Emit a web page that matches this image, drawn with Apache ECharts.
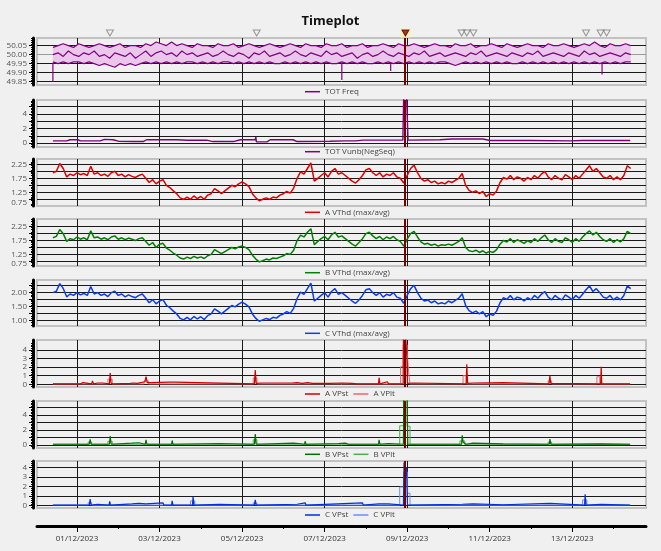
<!DOCTYPE html>
<html><head><meta charset="utf-8">
<script src="https://cdn.jsdelivr.net/npm/echarts@6/dist/echarts.min.js"></script>
<style>html,body{margin:0;padding:0;background:#f0f0f0;}#c{width:661px;height:551px;}</style>
</head><body><div id="c"></div>
<script>
// ---------------- DATA ----------------
const regStart = '2023-11-30 10:00';
const freqStepHours = 3;
const thdStepHours = 2;
const xMinTime = '2023-11-30 00:45';
const xMaxTime = '2023-12-14 18:53';
const cursorTime = '2023-12-08 22:50';

const dayTicks = ['2023-12-01','2023-12-02','2023-12-03','2023-12-04','2023-12-05','2023-12-06','2023-12-07',
                  '2023-12-08','2023-12-09','2023-12-10','2023-12-11','2023-12-12','2023-12-13','2023-12-14'];
const labelDays = ['2023-12-01','2023-12-03','2023-12-05','2023-12-07','2023-12-09','2023-12-11','2023-12-13'];

const eventTimes = ['2023-12-01 19:10','2023-12-05 08:30','2023-12-10 07:40','2023-12-10 10:40','2023-12-10 14:30',
                    '2023-12-13 08:00','2023-12-13 16:30','2023-12-13 20:00'];
const selectedEvent = ['2023-12-08 23:00'];

const freqMax = [
50.04,50.05,50.06,50.05,50.04,50.06,50.05,50.04,50.05,50.06,
50.05,50.04,50.05,50.06,50.04,50.05,50.05,50.04,50.06,50.05,
50.07,50.06,50.05,50.07,50.05,50.06,50.05,50.04,50.06,50.05,
50.05,50.04,50.06,50.05,50.05,50.06,50.04,50.05,50.06,50.05,
50.04,50.05,50.06,50.05,50.04,50.05,50.06,50.05,50.04,50.06,
50.05,50.05,50.04,50.06,50.05,50.05,50.06,50.04,50.05,50.05,
50.06,50.04,50.05,50.05,50.06,50.05,50.04,50.06,50.05,50.05,
50.06,50.05,50.04,50.05,50.06,50.05,50.05,50.04,50.06,50.05,
50.05,50.06,50.04,50.05,50.05,50.06,50.05,50.04,50.06,50.05,
50.04,50.05,50.06,50.05,50.05,50.04,50.06,50.05,50.05,50.06,
50.05,50.04,50.05,50.06,50.05,50.07,50.05,50.04,50.06,50.05,
50.05,50.06,50.05];
const freqAvg = [
50.00,50.01,49.99,50.02,50.00,49.99,50.01,50.00,50.02,49.99,
50.00,49.98,50.01,50.00,49.99,50.01,49.98,50.00,50.02,49.99,
50.01,50.02,50.00,50.01,49.99,50.02,50.00,50.01,49.99,50.00,
50.01,49.99,50.00,50.02,50.00,49.99,50.01,50.00,49.98,50.01,
50.00,50.02,49.99,50.00,50.01,49.99,50.00,50.02,50.00,49.99,
50.01,50.00,49.99,50.02,50.00,50.01,49.99,50.00,50.01,49.98,
50.00,50.01,49.99,50.00,50.02,50.00,49.99,50.01,50.00,49.99,
50.01,50.00,50.02,49.99,50.00,50.01,49.99,50.00,50.01,50.00,
49.99,50.01,50.00,50.02,49.99,50.00,50.01,50.00,49.99,50.01,
50.00,49.99,50.01,50.00,50.02,49.99,50.00,50.01,50.00,49.99,
50.01,50.00,49.99,50.02,50.00,50.01,49.99,50.00,50.01,50.00,
49.99,50.01,50.00];
const freqMin = [
49.96,49.95,49.96,49.95,49.96,49.96,49.95,49.96,49.95,49.94,
49.95,49.94,49.93,49.95,49.94,49.95,49.94,49.95,49.96,49.95,
49.96,49.95,49.96,49.95,49.96,49.95,49.96,49.96,49.95,49.96,
49.95,49.96,49.95,49.96,49.96,49.95,49.96,49.95,49.96,49.95,
49.96,49.95,49.96,49.95,49.95,49.96,49.95,49.96,49.95,49.96,
49.95,49.96,49.95,49.96,49.95,49.95,49.96,49.95,49.96,49.95,
49.96,49.95,49.95,49.96,49.95,49.96,49.95,49.96,49.95,49.96,
49.95,49.96,49.95,49.96,49.95,49.96,49.96,49.95,49.94,49.95,
49.96,49.95,49.96,49.95,49.96,49.95,49.96,49.95,49.96,49.95,
49.95,49.96,49.95,49.96,49.95,49.96,49.95,49.96,49.95,49.96,
49.95,49.96,49.95,49.96,49.95,49.96,49.95,49.96,49.95,49.96,
49.95,49.96,49.96];
const freqDipLevel = 49.955;
const freqDips = [['2023-11-30 10:00',49.85],['2023-12-07 10:00',49.86],['2023-12-08 14:25',49.91],['2023-12-13 17:20',49.89]];

const vunbData = [
['2023-11-30 10:00',0.30],['2023-11-30 18:00',0.30],['2023-11-30 20:00',0.45],['2023-12-01 00:30',0.45],['2023-12-01 02:00',0.30],
['2023-12-01 13:30',0.30],['2023-12-01 16:00',0.50],['2023-12-01 21:00',0.45],['2023-12-02 00:00',0.25],['2023-12-02 08:30',0.20],
['2023-12-02 14:30',0.20],['2023-12-02 16:30',0.45],['2023-12-03 10:00',0.45],['2023-12-03 16:00',0.38],['2023-12-04 03:30',0.40],
['2023-12-04 07:00',0.20],['2023-12-04 19:00',0.20],['2023-12-04 23:00',0.45],['2023-12-05 07:40',0.45],['2023-12-05 08:00',0.85],
['2023-12-05 08:20',0.15],['2023-12-05 14:30',0.15],['2023-12-05 16:20',0.45],['2023-12-06 05:40',0.45],['2023-12-06 08:00',0.20],
['2023-12-07 03:00',0.25],['2023-12-07 12:00',0.30],['2023-12-07 18:00',0.30],['2023-12-07 22:30',0.40],['2023-12-08 21:30',0.40],
['2023-12-08 22:00',6.5],['2023-12-08 23:40',6.5],['2023-12-09 00:30',0.40],['2023-12-09 19:00',0.45],['2023-12-10 02:00',0.55],
['2023-12-10 20:00',0.55],['2023-12-11 00:20',0.35],['2023-12-11 23:30',0.35],['2023-12-12 22:50',0.30],['2023-12-13 06:00',0.35],
['2023-12-14 09:40',0.35]];

const thdA = [
1.95,2.00,2.28,2.10,1.80,1.90,1.85,1.95,1.88,1.92,
1.85,2.18,1.90,1.95,1.85,1.90,1.82,1.95,2.00,1.85,
1.90,1.80,1.88,1.82,1.78,1.85,1.90,1.75,1.60,1.70,
1.55,1.65,1.70,1.50,1.42,1.30,1.20,1.05,1.00,1.08,
1.00,1.12,1.02,1.10,1.00,1.15,1.20,1.38,1.30,1.20,
1.30,1.40,1.50,1.45,1.55,1.62,1.55,1.45,1.20,1.05,
0.95,1.00,1.05,1.00,1.08,1.05,1.15,1.20,1.28,1.22,
1.40,1.75,1.98,1.90,2.10,2.30,1.65,1.75,1.85,1.95,
1.80,2.00,2.10,1.90,1.95,1.85,1.75,1.65,1.58,1.70,
1.85,2.05,2.10,1.95,1.85,1.95,1.80,1.90,1.85,1.95,
1.80,1.75,1.58,1.85,2.10,2.22,1.95,1.75,1.65,1.70,
1.60,1.65,1.55,1.60,1.55,1.65,1.60,1.68,1.75,1.92,
1.50,1.32,1.25,1.30,1.20,1.28,1.10,1.20,1.15,1.30,
1.60,1.78,1.72,1.85,1.70,1.80,1.75,1.65,1.78,1.70,
1.85,1.75,1.90,2.00,1.80,1.70,1.85,1.75,1.70,1.88,
1.80,1.70,1.85,1.75,1.90,2.05,2.20,2.00,2.10,1.95,
1.80,1.75,1.85,1.70,1.80,1.70,1.85,2.20,2.10];
const thdB = [
1.85,1.90,2.15,2.00,1.72,1.82,1.78,1.88,1.80,1.85,
1.78,2.10,1.85,1.88,1.80,1.85,1.78,1.88,1.92,1.80,
1.85,1.78,1.84,1.80,1.75,1.82,1.85,1.72,1.58,1.68,
1.50,1.62,1.65,1.48,1.40,1.30,1.22,1.12,1.08,1.15,
1.10,1.18,1.12,1.16,1.10,1.20,1.25,1.42,1.35,1.28,
1.35,1.42,1.50,1.45,1.52,1.55,1.50,1.42,1.22,1.08,
0.98,1.02,1.08,1.05,1.12,1.10,1.15,1.20,1.28,1.25,
1.40,1.75,1.95,1.88,2.05,2.18,1.60,1.72,1.82,1.90,
1.78,1.95,2.05,1.88,1.92,1.82,1.72,1.62,1.55,1.68,
1.82,2.00,2.05,1.92,1.82,1.90,1.78,1.88,1.82,1.90,
1.78,1.72,1.55,1.80,2.00,2.08,1.88,1.70,1.62,1.65,
1.58,1.62,1.55,1.60,1.58,1.62,1.58,1.65,1.72,1.85,
1.50,1.38,1.35,1.40,1.32,1.38,1.30,1.36,1.32,1.42,
1.62,1.75,1.70,1.82,1.68,1.78,1.72,1.65,1.75,1.68,
1.82,1.72,1.85,1.95,1.78,1.68,1.82,1.72,1.68,1.85,
1.78,1.68,1.82,1.72,1.88,2.00,2.10,1.95,2.05,1.90,
1.78,1.72,1.82,1.68,1.78,1.70,1.82,2.08,2.00];
const thdC = [
2.00,2.05,2.32,2.15,1.85,1.95,1.90,2.00,1.92,1.97,
1.90,2.22,1.95,2.00,1.90,1.95,1.86,2.00,2.05,1.90,
1.95,1.85,1.92,1.86,1.82,1.90,1.95,1.80,1.64,1.75,
1.60,1.70,1.75,1.55,1.46,1.34,1.24,1.08,1.03,1.12,
1.03,1.15,1.06,1.14,1.04,1.18,1.24,1.42,1.34,1.24,
1.34,1.44,1.54,1.49,1.59,1.66,1.59,1.49,1.24,1.08,
0.98,1.03,1.08,1.04,1.12,1.09,1.19,1.24,1.32,1.26,
1.44,1.79,2.02,1.94,2.14,2.34,1.70,1.80,1.90,2.00,
1.84,2.04,2.14,1.94,2.00,1.90,1.80,1.70,1.62,1.74,
1.90,2.10,2.14,2.00,1.90,2.00,1.84,1.94,1.90,2.00,
1.84,1.80,1.62,1.90,2.14,2.26,2.00,1.80,1.70,1.74,
1.64,1.70,1.60,1.64,1.60,1.70,1.64,1.72,1.80,1.96,
1.54,1.36,1.28,1.34,1.24,1.32,1.14,1.24,1.19,1.34,
1.64,1.82,1.76,1.90,1.74,1.84,1.80,1.70,1.82,1.74,
1.90,1.80,1.94,2.04,1.84,1.74,1.90,1.80,1.74,1.92,
1.84,1.74,1.90,1.80,1.94,2.10,2.24,2.04,2.14,2.00,
1.84,1.80,1.90,1.74,1.84,1.74,1.90,2.24,2.14];

const pstA = [
['2023-11-30 10:00',0.05],['2023-12-01 02:00',0.05],['2023-12-01 03:30',0.2],['2023-12-01 04:30',0.05],
['2023-12-01 08:30',0.05],['2023-12-01 09:00',0.4],['2023-12-01 09:40',0.05],['2023-12-01 12:00',0.15],['2023-12-01 12:40',0.05],
['2023-12-01 15:00',0.15],['2023-12-01 15:40',0.05],['2023-12-01 18:50',0.05],['2023-12-01 19:20',1.3],['2023-12-01 19:50',0.1],
['2023-12-01 21:00',0.05],['2023-12-02 07:00',0.1],['2023-12-02 09:00',0.15],['2023-12-02 11:00',0.1],['2023-12-02 15:30',0.3],
['2023-12-02 16:10',0.9],['2023-12-02 16:50',0.2],['2023-12-02 18:30',0.2],['2023-12-02 19:30',0.05],['2023-12-03 06:00',0.25],
['2023-12-03 09:00',0.25],['2023-12-03 10:00',0.05],['2023-12-05 07:10',0.05],['2023-12-05 07:40',1.65],['2023-12-05 08:10',0.1],
['2023-12-05 12:00',0.15],['2023-12-05 12:40',0.05],['2023-12-06 05:00',0.15],['2023-12-06 08:00',0.2],['2023-12-06 11:00',0.1],
['2023-12-06 14:00',0.2],['2023-12-06 17:00',0.1],['2023-12-06 18:00',0.05],['2023-12-07 03:00',0.1],['2023-12-07 10:00',0.15],
['2023-12-07 16:00',0.1],['2023-12-07 19:00',0.05],['2023-12-08 07:20',0.05],['2023-12-08 07:40',0.77],['2023-12-08 08:10',0.05],
['2023-12-08 12:30',0.3],['2023-12-08 13:10',0.05],['2023-12-08 21:40',0.05],['2023-12-08 21:50',5.5],['2023-12-08 22:30',4.0],
['2023-12-08 23:10',5.5],['2023-12-08 23:50',3.0],['2023-12-09 00:10',0.1],['2023-12-09 03:30',0.15],['2023-12-09 04:00',0.05],
['2023-12-10 10:20',0.05],['2023-12-10 10:40',2.33],['2023-12-10 11:10',0.1],['2023-12-10 14:20',0.15],['2023-12-10 15:00',0.05],
['2023-12-11 07:50',0.2],['2023-12-11 08:30',0.05],['2023-12-12 10:30',0.05],['2023-12-12 11:00',1.0],['2023-12-12 11:30',0.1],
['2023-12-12 12:00',0.05],['2023-12-13 16:30',0.05],['2023-12-13 16:50',2.05],['2023-12-13 17:10',0.05],['2023-12-14 09:40',0.05]];
const pltA = [
['2023-11-30 10:00',0.05],['2023-12-01 18:00',0.6],['2023-12-01 20:30',0.05],['2023-12-02 15:00',0.4],['2023-12-02 17:30',0.05],
['2023-12-05 06:30',0.75],['2023-12-05 08:40',0.05],['2023-12-08 20:10',2.05],['2023-12-08 21:40',4.6],['2023-12-09 00:00',3.8],
['2023-12-09 00:50',1.47],['2023-12-09 01:40',0.05],['2023-12-10 08:30',1.0],['2023-12-10 10:20',0.05],['2023-12-12 10:00',0.4],
['2023-12-12 12:00',0.05],['2023-12-13 14:20',0.88],['2023-12-13 16:00',0.05],['2023-12-14 09:40',0.05]];

const pstB = [
['2023-11-30 10:00',0.1],['2023-12-01 03:00',0.1],['2023-12-01 03:30',0.3],['2023-12-01 04:00',0.1],['2023-12-01 07:10',0.1],
['2023-12-01 07:40',0.76],['2023-12-01 08:10',0.1],['2023-12-01 18:50',0.1],['2023-12-01 19:20',1.2],['2023-12-01 19:50',0.1],
['2023-12-02 08:00',0.25],['2023-12-02 12:00',0.3],['2023-12-02 15:40',0.1],['2023-12-02 16:10',0.7],['2023-12-02 16:40',0.1],
['2023-12-03 07:00',0.1],['2023-12-03 07:20',0.6],['2023-12-03 07:50',0.1],['2023-12-04 11:00',0.2],['2023-12-04 11:30',0.1],
['2023-12-05 07:10',0.1],['2023-12-05 07:40',1.45],['2023-12-05 08:10',0.1],['2023-12-06 05:40',0.25],['2023-12-06 09:00',0.2],
['2023-12-06 12:20',0.1],['2023-12-06 12:40',0.5],['2023-12-06 13:10',0.1],['2023-12-07 08:00',0.2],['2023-12-07 12:00',0.25],
['2023-12-07 14:00',0.1],['2023-12-08 07:20',0.1],['2023-12-08 07:40',0.7],['2023-12-08 08:10',0.1],['2023-12-08 13:00',0.2],
['2023-12-08 13:30',0.1],['2023-12-08 21:50',0.1],['2023-12-08 22:00',6.5],['2023-12-09 00:00',6.5],['2023-12-09 00:20',0.1],
['2023-12-10 07:40',0.1],['2023-12-10 08:00',1.3],['2023-12-10 08:30',0.4],['2023-12-10 10:00',0.1],['2023-12-10 14:20',0.25],
['2023-12-10 14:50',0.1],['2023-12-11 07:50',0.15],['2023-12-11 08:20',0.1],['2023-12-12 10:40',0.1],['2023-12-12 11:00',0.8],
['2023-12-12 11:30',0.1],['2023-12-13 16:40',0.15],['2023-12-13 17:00',0.1],['2023-12-14 09:40',0.1]];
const pltB = [
['2023-11-30 10:00',0.1],['2023-12-01 06:30',0.4],['2023-12-01 08:30',0.1],['2023-12-01 18:00',0.5],['2023-12-01 20:30',0.1],
['2023-12-05 06:30',0.7],['2023-12-05 08:40',0.1],['2023-12-08 19:40',2.57],['2023-12-08 22:00',6.0],['2023-12-09 00:00',2.5],
['2023-12-09 01:40',0.1],['2023-12-10 06:40',0.55],['2023-12-10 09:30',0.1],['2023-12-12 10:00',0.4],['2023-12-12 12:00',0.1],
['2023-12-14 09:40',0.1]];

const pstC = [
['2023-11-30 10:00',0.07],['2023-12-01 07:10',0.07],['2023-12-01 07:40',0.7],['2023-12-01 08:10',0.07],['2023-12-01 12:00',0.15],
['2023-12-01 12:30',0.07],['2023-12-01 18:40',0.07],['2023-12-01 19:00',0.45],['2023-12-01 19:30',0.07],['2023-12-02 08:00',0.2],
['2023-12-02 12:00',0.25],['2023-12-02 16:00',0.2],['2023-12-02 17:00',0.07],['2023-12-03 02:00',0.3],['2023-12-03 02:30',0.07],
['2023-12-03 07:00',0.07],['2023-12-03 07:20',0.5],['2023-12-03 07:50',0.07],['2023-12-03 19:10',0.07],['2023-12-03 19:30',0.94],
['2023-12-03 20:00',0.07],['2023-12-04 11:00',0.15],['2023-12-04 11:30',0.07],['2023-12-05 07:10',0.07],['2023-12-05 07:40',0.6],
['2023-12-05 08:10',0.07],['2023-12-06 08:00',0.15],['2023-12-06 12:40',0.3],['2023-12-06 13:10',0.07],['2023-12-07 22:00',0.3],
['2023-12-07 22:30',0.07],['2023-12-08 07:40',0.2],['2023-12-08 08:00',0.07],['2023-12-08 13:00',0.2],['2023-12-08 13:30',0.07],
['2023-12-08 21:50',0.07],['2023-12-08 22:10',4.5],['2023-12-08 23:00',3.0],['2023-12-08 23:40',4.0],['2023-12-09 00:10',0.07],
['2023-12-10 08:00',0.15],['2023-12-10 14:20',0.2],['2023-12-10 15:00',0.07],['2023-12-11 07:50',0.1],['2023-12-12 11:00',0.25],
['2023-12-12 11:30',0.07],['2023-12-13 07:10',0.07],['2023-12-13 07:30',1.2],['2023-12-13 08:00',0.07],['2023-12-13 16:50',0.15],
['2023-12-13 17:20',0.07],['2023-12-14 09:40',0.07]];
const pltC = [
['2023-11-30 10:00',0.07],['2023-12-01 06:30',0.3],['2023-12-01 08:30',0.07],['2023-12-03 18:00',0.5],['2023-12-03 20:30',0.07],
['2023-12-05 06:30',0.3],['2023-12-05 08:40',0.07],['2023-12-08 19:40',1.95],['2023-12-08 22:00',3.5],['2023-12-09 00:10',1.3],
['2023-12-09 01:40',0.07],['2023-12-13 06:00',0.6],['2023-12-13 08:30',0.07],['2023-12-14 09:40',0.07]];

// tick / gridline values
const freqTicks = [49.85, 49.90, 49.95, 50.00, 50.05];
const vunbGrid = [0,1,2,3,4,5], vunbLabels = [0,2,4];
const thdGrid = [1.0,1.25,1.5,1.75,2.0,2.25], thdLabels = [1.25,1.75,2.25];
const thdBottomLabel = '0.75';
const thdCLabels = [1.0,1.5,2.0];
const pstAGrid = [0,1,2,3,4], pstBGrid = [0,1,2,3,4,5], pstBLabels = [0,2,4], pstCGrid = [0,1,2,3,4];

// ---------------- BUILD ----------------
const T = s => { const m = s.match(/(\d+)-(\d+)-(\d+)(?: (\d+):(\d+))?/); return Date.UTC(+m[1], m[2]-1, +m[3], +(m[4]||0), +(m[5]||0)); };
const H = 3600000;
const reg = (arr, stepH) => arr.map((v,i) => [T(regStart) + i*stepH*H, v]);
const pairs = arr => arr.map(p => [T(p[0]), p[1]]);
const xMin = T(xMinTime), xMax = T(xMaxTime);
const FONT = 'Open Sans';
const pad = n => (n<10?'0':'')+n;
const fmtDate = v => { const d = new Date(v); return pad(d.getUTCDate())+'/'+pad(d.getUTCMonth()+1)+'/'+d.getUTCFullYear(); };

const layout = [[38,47],[100,47],[159,47],[219,47],[280,46],[340,47],[401,47],[461,47],[28,10],[520,6],[520,6]];
const grid = layout.map(([top,h],i) => ({left:37, right:15, top:top, height:h, show:i<8,
  borderColor:'#c2c2c2', borderWidth:2, backgroundColor:'#f0f0f0'}));

const gridDays = labelDays.map(T);
const xAxis = [];
for (let i=0;i<8;i++) xAxis.push({type:'value', gridIndex:i, min:xMin, max:xMax,
  axisLine:{show:false, onZero:false}, axisTick:{show:false, customValues:gridDays}, axisLabel:{show:false},
  splitLine:{show:true, lineStyle:{color:'#1a1a1a', width:1}}});
xAxis.push({type:'value', gridIndex:8, min:xMin, max:xMax, show:false});
xAxis.push({type:'value', gridIndex:9, min:xMin, max:xMax, position:'bottom',
  axisLine:{show:true, onZero:false, lineStyle:{color:'#000', width:3}},
  axisTick:{show:true, customValues:gridDays, length:6, lineStyle:{color:'#000', width:1}},
  axisLabel:{show:true, customValues:gridDays, formatter:fmtDate, fontSize:8, color:'#333', margin:9, fontFamily:FONT,
    showMinLabel:true, showMaxLabel:true, hideOverlap:false},
  splitLine:{show:false}});
xAxis.push({type:'value', gridIndex:10, min:xMin, max:xMax, position:'bottom',
  axisLine:{show:false, onZero:false},
  axisTick:{show:true, customValues:dayTicks.map(T), length:3, lineStyle:{color:'#000', width:1}},
  axisLabel:{show:false}, splitLine:{show:false}});

function yAx(gi, min, max, gridVals, labelVals, fmt, splitColor) {
  return {type:'value', gridIndex:gi, min:min, max:max, offset:4,
    axisLine:{show:true, onZero:false, lineStyle:{color:'#000', width:3}},
    axisTick:{show:true, customValues:gridVals, length:4, lineStyle:{color:'#000'}},
    minorTick:{show:true, splitNumber:5, length:2, lineStyle:{color:'#000'}},
    axisLabel:{show:true, customValues:labelVals, formatter:fmt, fontSize:8, color:'#555', margin:6,
      fontFamily:FONT, showMinLabel:true, showMaxLabel:true, hideOverlap:false},
    splitLine:{show:true, lineStyle:{color:splitColor||'#1a1a1a', width:1}}};
}
const f2 = v => v.toFixed(2), f0 = v => String(Math.round(v));
// the "0.75" label sits just above each panel's lower edge, as in the source chart
const aMin = 0.76, bMin = 0.83, aBottomPos = 0.86, bBottomPos = 0.93;
const yAxis = [
  yAx(0, 49.832, 50.092, freqTicks, freqTicks, f2, ['#1a1a1a','#1a1a1a','#1a1a1a','#9a9a9a','#1a1a1a']),
  yAx(1, -0.55, 5.93, vunbGrid, vunbLabels, f0),
  yAx(2, aMin, 2.44, thdGrid, [aBottomPos].concat(thdLabels), v => v===aBottomPos ? thdBottomLabel : f2(v)),
  yAx(3, bMin, 2.53, thdGrid, [bBottomPos].concat(thdLabels), v => v===bBottomPos ? thdBottomLabel : f2(v)),
  yAx(4, 0.81, 2.45, thdGrid, thdCLabels, f2),
  yAx(5, -0.315, 5.166, pstAGrid, pstAGrid, f0),
  yAx(6, -0.40, 5.87, pstBGrid, pstBLabels, f0),
  yAx(7, -0.24, 4.66, pstCGrid, pstCGrid, f0),
  {type:'value', gridIndex:8, min:0, max:1, show:false},
  {type:'value', gridIndex:9, min:0, max:1, show:false},
  {type:'value', gridIndex:10, min:0, max:1, show:false}
];

const cursorLine = {silent:true, symbol:['none','none'], label:{show:false}, animation:false,
  lineStyle:{color:'#7a0000', width:2, type:'solid'}, data:[{xAxis:T(cursorTime)}]};
const ln = (name, gi, data, color, width, extra) => Object.assign({type:'line', name:name, xAxisIndex:gi, yAxisIndex:gi,
  data:data, symbol:'none', showSymbol:false, animation:false, lineStyle:{color:color, width:width}, itemStyle:{color:color}}, extra||{});

const PURPLE = '#800080';
const fMin = reg(freqMin, freqStepHours), fMax = reg(freqMax, freqStepHours);
const series = [];
series.push({type:'custom', name:'_band', xAxisIndex:0, yAxisIndex:0, silent:true, animation:false, clip:true,
  data:[[fMax[0][0], 50.0]],
  renderItem:(params, api) => {
    const pts = fMax.map(p => api.coord(p)).concat(fMin.slice().reverse().map(p => api.coord(p)));
    return {type:'polygon', shape:{points:pts}, style:{fill:'#e9c6ea', stroke:null}};
  }});
series.push(ln('TOT Freq', 0, fMax, PURPLE, 1.2, {markLine:cursorLine}));
series.push(ln('TOT Freq', 0, reg(freqAvg, freqStepHours), PURPLE, 1.2));
series.push(ln('TOT Freq', 0, fMin, PURPLE, 1.2));
const dipSegs = [];
freqDips.forEach(d => { dipSegs.push([T(d[0]), freqDipLevel], [T(d[0]), d[1]], '-'); });
series.push(ln('TOT Freq', 0, dipSegs, PURPLE, 1.2, {connectNulls:false}));

series.push(ln('TOT Vunb(NegSeq)', 1, pairs(vunbData), PURPLE, 1.4, {markLine:cursorLine}));
series.push(ln('A VThd (max/avg)', 2, reg(thdA, thdStepHours), '#e00000', 1.5, {markLine:cursorLine}));
series.push(ln('B VThd (max/avg)', 3, reg(thdB, thdStepHours), '#008000', 1.5, {markLine:cursorLine}));
series.push(ln('C VThd (max/avg)', 4, reg(thdC, thdStepHours), '#0a3cf0', 1.5, {markLine:cursorLine}));

series.push(ln('A VPlt', 5, pairs(pltA), '#e86a6a', 1, {step:'end'}));
series.push(ln('A VPst', 5, pairs(pstA), '#d00000', 1.2, {markLine:cursorLine}));
series.push(ln('B VPlt', 6, pairs(pltB), '#4caf4c', 1, {step:'end'}));
series.push(ln('B VPst', 6, pairs(pstB), '#007000', 1.2, {markLine:cursorLine}));
series.push(ln('C VPlt', 7, pairs(pltC), '#6f8cff', 1, {step:'end'}));
series.push(ln('C VPst', 7, pairs(pstC), '#0030e0', 1.2, {markLine:cursorLine}));

series.push({type:'scatter', name:'_ev', xAxisIndex:8, yAxisIndex:8, animation:false, silent:true,
  data:eventTimes.map(t=>[T(t),0.5]), symbol:'triangle', symbolRotate:180, symbolSize:[7,6],
  itemStyle:{color:'rgba(0,0,0,0)', borderColor:'#808080', borderWidth:1}});
series.push({type:'scatter', name:'_evsel_bg', xAxisIndex:8, yAxisIndex:8, animation:false, silent:true,
  data:selectedEvent.map(t=>[T(t),0.5]), symbol:'rect', symbolSize:[11,9], itemStyle:{color:'#fbf3b0'}});
series.push({type:'scatter', name:'_evsel', xAxisIndex:8, yAxisIndex:8, animation:false, silent:true,
  data:selectedEvent.map(t=>[T(t),0.5]), symbol:'triangle', symbolRotate:180, symbolSize:[7,6],
  itemStyle:{color:'#a00000', borderColor:'#500000', borderWidth:1}});

const legendCenters = [91.7, 151.7, 212.3, 272.7, 333.3, 394, 454.3, 515];
const legendSets = [['TOT Freq'],['TOT Vunb(NegSeq)'],['A VThd (max/avg)'],['B VThd (max/avg)'],['C VThd (max/avg)'],
  ['A VPst','A VPlt'],['B VPst','B VPlt'],['C VPst','C VPlt']];
const legend = legendSets.map((d,i) => ({data:d.map(n => ({name:n, icon:'rect'})), left:305, top:legendCenters[i]-5,
  padding:0, itemWidth:15, itemHeight:1.5, itemGap:5, selectedMode:false,
  textStyle:{fontSize:8, lineHeight:10, color:'#444', fontFamily:FONT}}));

const chart = echarts.init(document.getElementById('c'), null, {renderer:'canvas'});
chart.setOption({
  backgroundColor:'#f0f0f0', animation:false,
  title:{text:'Timeplot', left:'center', top:10, textStyle:{fontSize:13, fontWeight:'bold', color:'#111', fontFamily:FONT}},
  grid:grid, xAxis:xAxis, yAxis:yAxis, legend:legend, series:series
});
</script></body></html>
